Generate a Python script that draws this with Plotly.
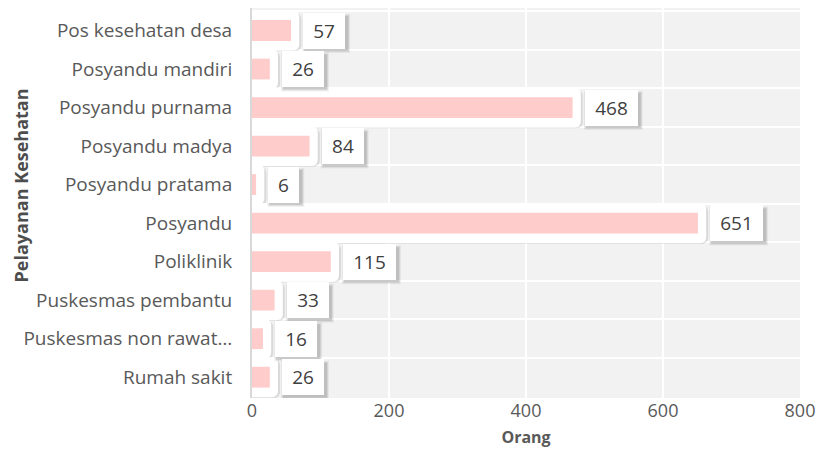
import plotly.graph_objects as go

# data (top to bottom)
categories = [
    "Pos kesehatan desa",
    "Posyandu mandiri",
    "Posyandu purnama",
    "Posyandu madya",
    "Posyandu pratama",
    "Posyandu",
    "Poliklinik",
    "Puskesmas pembantu",
    "Puskesmas non rawat…",
    "Rumah sakit",
]
counts = [57, 26, 468, 84, 6, 651, 115, 33, 16, 26]
x_ticks = [0, 200, 400, 600, 800]

FONT = "Open Sans"
PAD = 12  # white backing box runs this far past the bar end (data units)

fig = go.Figure()

# soft shadow under the white backing boxes
fig.add_trace(go.Bar(
    y=categories, x=[v + PAD + 3 for v in counts], orientation="h",
    width=1.0, offset=-0.46,
    marker=dict(color="rgba(0,0,0,0.10)", cornerradius=6, line=dict(width=0)),
    hoverinfo="skip", showlegend=False,
))
# white rounded backing box
fig.add_trace(go.Bar(
    y=categories, x=[v + PAD for v in counts], orientation="h",
    width=1.04,
    marker=dict(color="white", cornerradius=6, line=dict(width=0)),
    hoverinfo="skip", showlegend=False,
))
# the actual bars
fig.add_trace(go.Bar(
    y=categories, x=counts, orientation="h",
    width=0.54,
    marker=dict(color="#ffcccc", line=dict(width=0)),
    showlegend=False,
))

# value labels in white boxes with a soft drop shadow
BOX_H = 33
for i, (cat, v) in enumerate(zip(categories, counts)):
    txt = str(v)
    w = len(txt) * 11 + 10
    box_w = w + 2 * 5
    for grow, alpha in [(3, 0.05), (2, 0.07), (1, 0.10)]:
        fig.add_shape(
            type="rect", layer="above",
            xref="x", yref="y", xsizemode="pixel", ysizemode="pixel",
            xanchor=v + PAD, yanchor=i,
            x0=4 + 2 - grow, x1=4 + box_w + 2 + grow,
            y0=-BOX_H / 2 - 3 - grow, y1=BOX_H / 2 - 3 + grow,
            fillcolor=f"rgba(0,0,0,{alpha})", line=dict(width=0),
        )
    fig.add_annotation(
        x=v + PAD, y=cat, text=txt, showarrow=False,
        xanchor="left", yanchor="middle", xshift=4,
        width=w, borderpad=5,
        font=dict(family=FONT, size=19, color="#404040"),
        bgcolor="white", borderwidth=0,
    )

# y axis title, placed by hand so it sits where the reference has it
fig.add_annotation(
    xref="paper", yref="paper", x=0, y=0.545,
    xanchor="center", yanchor="middle", xshift=-231,
    text="<b>Pelayanan Kesehatan</b>", textangle=-90, showarrow=False,
    font=dict(family=FONT, size=18, color="#4d4d4d"),
)

fig.update_layout(
    width=819, height=449,
    barmode="overlay",
    paper_bgcolor="white",
    plot_bgcolor="#f2f2f2",
    margin=dict(l=244, r=27, t=0, b=59),
    font=dict(family=FONT, color="#595959"),
)
fig.update_xaxes(
    range=[0, 800], tickvals=x_ticks,
    tickfont=dict(size=18, color="#595959"),
    showgrid=True, gridcolor="white", gridwidth=2,
    zeroline=False, showline=False, ticks="",
    title=dict(text="<b>Orang</b>", font=dict(size=16, color="#595959"), standoff=10),
)
fig.update_yaxes(
    type="category", autorange="reversed",
    tickson="boundaries",
    showgrid=True, gridcolor="white", gridwidth=2,
    showline=True, linecolor="#d9d9d9", linewidth=2,
    ticks="", ticklabelstandoff=14,
    tickfont=dict(size=19, color="#595959"),
)

fig.write_html("out.html")
